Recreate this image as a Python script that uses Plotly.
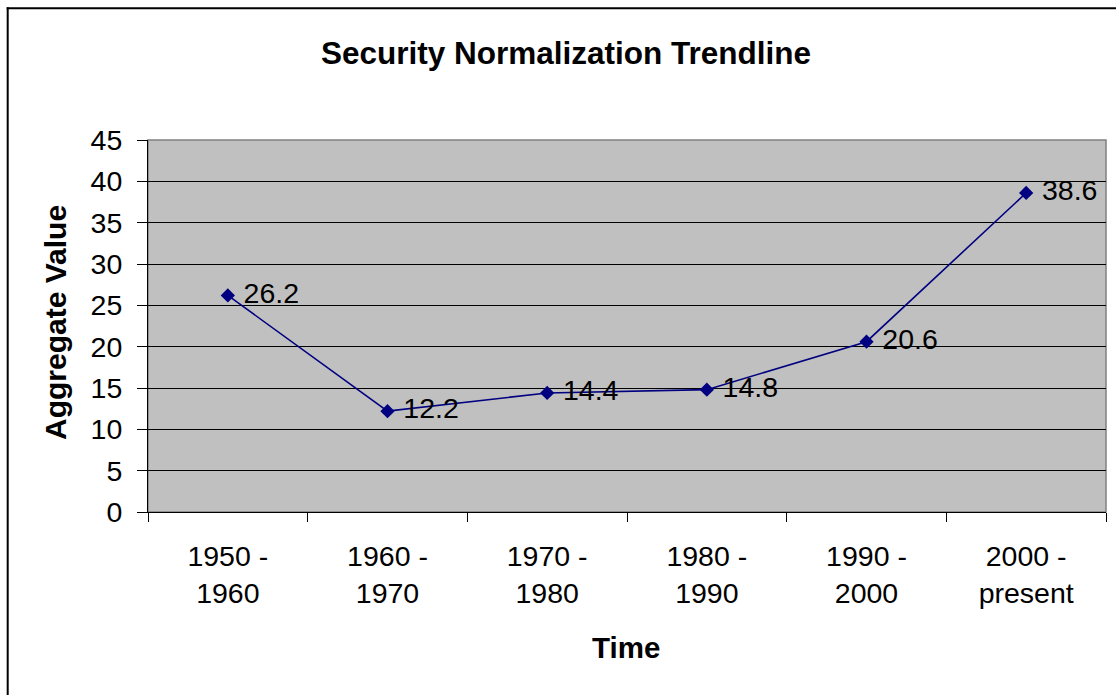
import plotly.graph_objects as go

categories = ["1950 -<br>1960", "1960 -<br>1970", "1970 -<br>1980", "1980 -<br>1990", "1990 -<br>2000", "2000 -<br>present"]
values = [26.2, 12.2, 14.4, 14.8, 20.6, 38.6]
labels = ["26.2", "12.2", "14.4", "14.8", "20.6", "38.6"]

FONT = "Liberation Sans, Arial, sans-serif"
W, H = 1116, 695
L, R, T, B = 148, 10, 140, 183
pw, ph = W - L - R, H - T - B

def px_x(x):
    return (x - L) / pw

def px_y(y):
    return (H - B - y) / ph

fig = go.Figure()
fig.add_trace(go.Scatter(
    x=categories, y=values, mode="lines+markers+text",
    text=["\u00a0" + s for s in labels], textposition="middle right",
    textfont=dict(family=FONT, size=28.5, color="black"),
    line=dict(color="#000080", width=1.6),
    marker=dict(symbol="diamond", size=11, color="#000080"),
    cliponaxis=False, showlegend=False,
))

fig.update_layout(
    width=W, height=H,
    margin=dict(l=L, r=R, t=T, b=B),
    paper_bgcolor="white", plot_bgcolor="#C0C0C0",
    font=dict(family=FONT, size=28.5, color="black"),
    xaxis=dict(type="category", tickson="boundaries", ticks="outside", ticklen=9,
               tickcolor="black", showgrid=False, showline=True, linecolor="black",
               linewidth=1, range=[-0.5, 5.5], tickfont=dict(size=28.5),
               ticklabelstandoff=19),
    yaxis=dict(range=[0, 45], dtick=5, ticks="outside", ticklen=10, tickcolor="black",
               showgrid=True, gridcolor="black", gridwidth=1, showline=True,
               linecolor="black", linewidth=1, zeroline=False, tickfont=dict(size=28.5),
               ticklabelstandoff=9),
    shapes=[
        dict(type="rect", xref="paper", yref="paper", x0=0, y0=0, x1=1, y1=1,
             line=dict(color="#808080", width=1.5), layer="below"),
        dict(type="line", xref="paper", yref="paper", x0=px_x(7.7), x1=px_x(7.7),
             y0=px_y(720), y1=px_y(7.3), line=dict(color="black", width=2)),
        dict(type="line", xref="paper", yref="paper", x0=px_x(6.7), x1=px_x(1130),
             y0=px_y(8.3), y1=px_y(8.3), line=dict(color="black", width=2)),
    ],
    annotations=[
        dict(text="<b>Security Normalization Trendline</b>", xref="paper", yref="paper",
             x=px_x(566), y=px_y(53), showarrow=False, xanchor="center", yanchor="middle",
             font=dict(size=31.5)),
        dict(text="<b>Time</b>", xref="paper", yref="paper",
             x=px_x(626), y=px_y(647), showarrow=False, xanchor="center", yanchor="middle",
             font=dict(size=29.5)),
        dict(text="<b>Aggregate Value</b>", xref="paper", yref="paper", textangle=-90,
             x=px_x(55), y=px_y(323), showarrow=False, xanchor="center", yanchor="middle",
             font=dict(size=30)),
    ],
)

fig.write_html("out.html", config={"displayModeBar": False},
               post_script="document.body.style.margin='0';document.body.style.overflow='hidden';")
